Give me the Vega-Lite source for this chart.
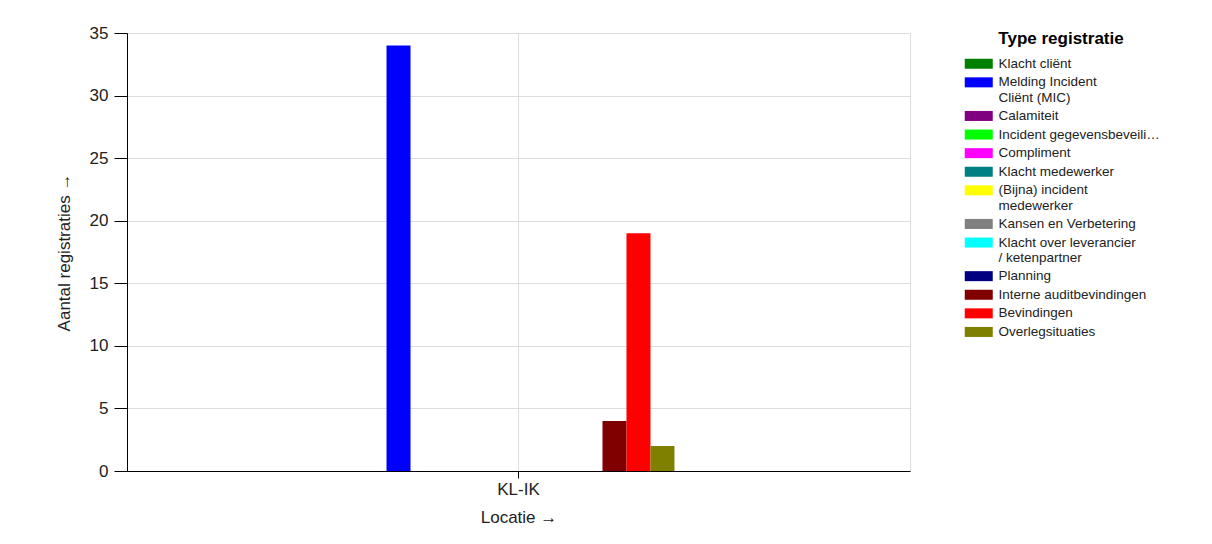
{
  "$schema": "https://vega.github.io/schema/vega-lite/v6.json",
  "width": 783,
  "height": 438,
  "autosize": "none",
  "padding": {"left": 127, "top": 33, "right": 302, "bottom": 73},
  "background": "white",
  "data": {
    "values": [
      {"locatie": "KL-IK", "type": "Klacht cliënt", "aantal": 0},
      {"locatie": "KL-IK", "type": "Melding Incident Cliënt (MIC)", "aantal": 34},
      {"locatie": "KL-IK", "type": "Calamiteit", "aantal": 0},
      {"locatie": "KL-IK", "type": "Incident gegevensbeveiliging", "aantal": 0},
      {"locatie": "KL-IK", "type": "Compliment", "aantal": 0},
      {"locatie": "KL-IK", "type": "Klacht medewerker", "aantal": 0},
      {"locatie": "KL-IK", "type": "(Bijna) incident medewerker", "aantal": 0},
      {"locatie": "KL-IK", "type": "Kansen en Verbetering", "aantal": 0},
      {"locatie": "KL-IK", "type": "Klacht over leverancier / ketenpartner", "aantal": 0},
      {"locatie": "KL-IK", "type": "Planning", "aantal": 0},
      {"locatie": "KL-IK", "type": "Interne auditbevindingen", "aantal": 4},
      {"locatie": "KL-IK", "type": "Bevindingen", "aantal": 19},
      {"locatie": "KL-IK", "type": "Overlegsituaties", "aantal": 2}
    ]
  },
  "mark": {"type": "bar"},
  "encoding": {
    "x": {
      "field": "locatie",
      "type": "nominal",
      "scale": {"paddingOuter": 0.755, "paddingInner": 0},
      "axis": {
        "title": "Locatie →",
        "labelAngle": 0,
        "grid": true,
        "tickSize": 7,
        "labelPadding": 3,
        "titlePadding": 12
      }
    },
    "xOffset": {
      "field": "type",
      "type": "nominal",
      "sort": null,
      "scale": {"paddingInner": 0, "paddingOuter": 0}
    },
    "y": {
      "field": "aantal",
      "type": "quantitative",
      "scale": {"domain": [0, 35], "nice": false},
      "axis": {
        "title": "Aantal registraties →",
        "values": [0, 5, 10, 15, 20, 25, 30, 35],
        "tickSize": 13,
        "labelPadding": 6,
        "titlePadding": 16
      }
    },
    "color": {
      "field": "type",
      "type": "nominal",
      "sort": null,
      "scale": {
        "domain": ["Klacht cliënt", "Melding Incident Cliënt (MIC)", "Calamiteit", "Incident gegevensbeveiliging", "Compliment", "Klacht medewerker", "(Bijna) incident medewerker", "Kansen en Verbetering", "Klacht over leverancier / ketenpartner", "Planning", "Interne auditbevindingen", "Bevindingen", "Overlegsituaties"],
        "range": ["#008000", "#0000FF", "#800080", "#00FF00", "#FF00FF", "#008080", "#FFFF00", "#808080", "#00FFFF", "#000080", "#800000", "#FF0000", "#808000"]
      },
      "legend": {
        "title": "Type registratie",
        "orient": "none",
        "legendX": 836,
        "legendY": -2,
        "padding": 0,
        "titleAnchor": "middle",
        "titleFontSize": 17,
        "titleFontWeight": "bold",
        "titleColor": "black",
        "titlePadding": 9,
        "labelFontSize": 13.5,
        "labelColor": "#222222",
        "labelLimit": 166,
        "labelOffset": 13,
        "rowPadding": 3.6,
        "symbolType": "M-2.8,-1H2.8V1H-2.8Z",
        "symbolSize": 100,
        "symbolOffset": 9,
        "symbolStrokeWidth": 0,
        "symbolOpacity": 1,
        "labelExpr": "datum.label == 'Melding Incident Cliënt (MIC)' ? ['Melding Incident', 'Cliënt (MIC)'] : datum.label == '(Bijna) incident medewerker' ? ['(Bijna) incident', 'medewerker'] : datum.label == 'Klacht over leverancier / ketenpartner' ? ['Klacht over leverancier', '/ ketenpartner'] : datum.label"
      }
    }
  },
  "config": {
    "font": "Liberation Sans",
    "view": {"stroke": "#dddddd", "strokeWidth": 1},
    "axis": {
      "labelFontSize": 17,
      "titleFontSize": 17,
      "titleFontWeight": "normal",
      "labelColor": "#222222",
      "titleColor": "#222222",
      "domainColor": "#000000",
      "tickColor": "#000000",
      "gridColor": "#dddddd",
      "domainWidth": 1,
      "tickWidth": 1
    },
    "bar": {"stroke": null}
  }
}
